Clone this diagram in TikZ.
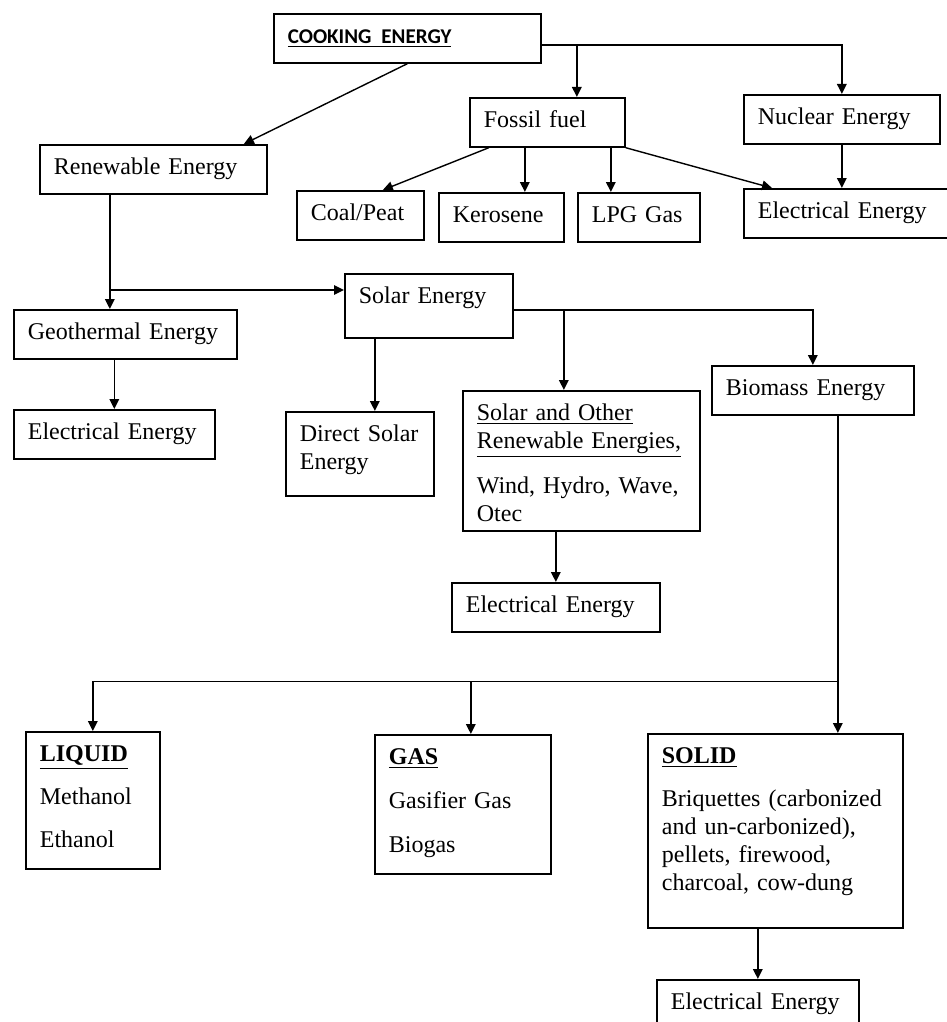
\documentclass[tikz,border=0pt]{standalone}
\usepackage{fontspec}
\setmainfont{Liberation Serif}
\newfontfamily\cookfont{Carlito}
\usetikzlibrary{arrows.meta,calc}

\begin{document}
\begin{tikzpicture}[x=0.5pt,y=-0.5pt,
  box/.style={draw,line width=0.85pt,anchor=north west,align=left,
    inner xsep=7pt,inner ysep=5pt,text height=9.8pt,text depth=4.7pt,
    font=\fontsize{12}{14}\selectfont},
  arr/.style={line width=0.7pt,-{Triangle[length=5pt,width=4.8pt]}},
  link/.style={line width=0.7pt}]
\useasboundingbox (0,0) rectangle (947,1022);
\clip (0,0) rectangle (947,1022);

% top row
\node[box,text width=119.5pt] (cook) at (273,13)
  {\cookfont\bfseries\fontsize{10.5}{14}\selectfont\underline{COOKING\hspace{5pt}ENERGY}};
\node[box,text width=99.5pt] (renew) at (39,144) {Renewable Energy};
\node[box,text width=63.5pt] (fossil) at (469,97) {Fossil fuel};
\node[box,text width=84pt] (nuclear) at (743,94) {Nuclear Energy};
\node[box,text width=49.5pt] (coal) at (296,190) {Coal/Peat};
\node[box,text width=48.5pt] (kero) at (438,192) {Kerosene};
\node[box,text width=47pt] (lpg) at (577,192) {LPG Gas};
\node[box,text width=92pt] (elecA) at (743,188) {Electrical Energy};

% middle
\node[box,text width=70pt,text depth=12.2pt] (solar) at (344,273) {Solar Energy};
\node[box,text width=97.5pt] (geo) at (13,309) {Geothermal Energy};
\node[box,text width=86.5pt] (elecB) at (13,409) {Electrical Energy};
\node[box,text width=60pt,text depth=22.2pt] (direct) at (285,411)
  {Direct Solar\\Energy};
\node[box,text width=104.5pt,text depth=50.2pt] (sother) at (462,390)
  {\underline{Solar and Other}\\\underline{Renewable Energies,}\\[8.5pt]
   Wind, Hydro, Wave,\\Otec};
\node[box,text width=90pt] (elecC) at (451,582) {Electrical Energy};
\node[box,text width=87pt] (biomass) at (711,365) {Biomass Energy};

% bottom row
\node[box,text width=53pt,text depth=48.7pt] (liquid) at (25,731)
  {\textbf{\underline{LIQUID}}\\[7.5pt]Methanol\\[7.5pt]Ethanol};
\node[box,text width=74pt,text depth=49.7pt] (gas) at (374,734)
  {\textbf{\underline{GAS}}\\[8pt]Gasifier Gas\\[8pt]Biogas};
\node[box,text width=113.5pt,text depth=77.2pt] (solid) at (647,733)
  {\textbf{\underline{SOLID}}\\[7.5pt]Briquettes (carbonized\\and un-carbonized),\\
   pellets, firewood,\\charcoal, cow-dung};
\node[box,text width=87pt] (elecD) at (656,979) {Electrical Energy};

% connectors
\coordinate (cookJ) at ($(cook.east)+(0,6.5)$);
\coordinate (fossilIn) at ($(fossil.north)+(29.5,0)$);
\coordinate (keroIn) at ($(kero.north)+(23.5,0)$);
\coordinate (lpgIn) at ($(lpg.north)+(-28,0)$);
\draw[arr] (cook.south) -- ($(renew.north)+(90.5,0)$);
\draw[arr] (cookJ) -| (nuclear.north);
\draw[arr] (fossilIn |- cookJ) -- (fossilIn);
\draw[arr] ($(fossil.south)+(-58.5,0)$) -- ($(coal.north)+(22.5,0)$);
\draw[arr] (keroIn |- fossil.south) -- (keroIn);
\draw[arr] (lpgIn |- fossil.south) -- (lpgIn);
\draw[arr] (fossil.south east) -- ($(elecA.north west)+(29,0)$);
\draw[arr] (nuclear.south) -- (nuclear.south |- elecA.north);

\coordinate (renewOut) at ($(renew.south)+(-43.5,0)$);
\coordinate (solarIn) at ($(solar.north west)+(0,17)$);
\draw[arr] (renewOut) -- (renewOut |- geo.north);
\draw[arr] (renewOut |- solarIn) -- (solarIn);
\draw[arr] (elecB.north |- geo.south) -- (elecB.north);

\coordinate (directIn) at ($(direct.north)+(15,0)$);
\coordinate (solarJ) at ($(solar.east)+(0,4)$);
\coordinate (sotherIn) at ($(sother.north)+(-17.5,0)$);
\draw[arr] (directIn |- solar.south) -- (directIn);
\draw[arr] (solarJ) -| (biomass.north);
\draw[arr] (sotherIn |- solarJ) -- (sotherIn);
\draw[arr] (elecC.north |- sother.south) -- (elecC.north);

\coordinate (bioOut) at ($(biomass.south)+(25,0)$);
\coordinate (gasIn) at ($(gas.north)+(8,0)$);
\draw[link] (bioOut) -- ++(0,266) coordinate (split);
\draw[arr] (split) -- (split |- solid.north);
\draw[arr] (split) -| (liquid.north);
\draw[arr] (gasIn |- split) -- (gasIn);
\draw[arr] (elecD.north |- solid.south) -- (elecD.north);
\end{tikzpicture}
\end{document}
